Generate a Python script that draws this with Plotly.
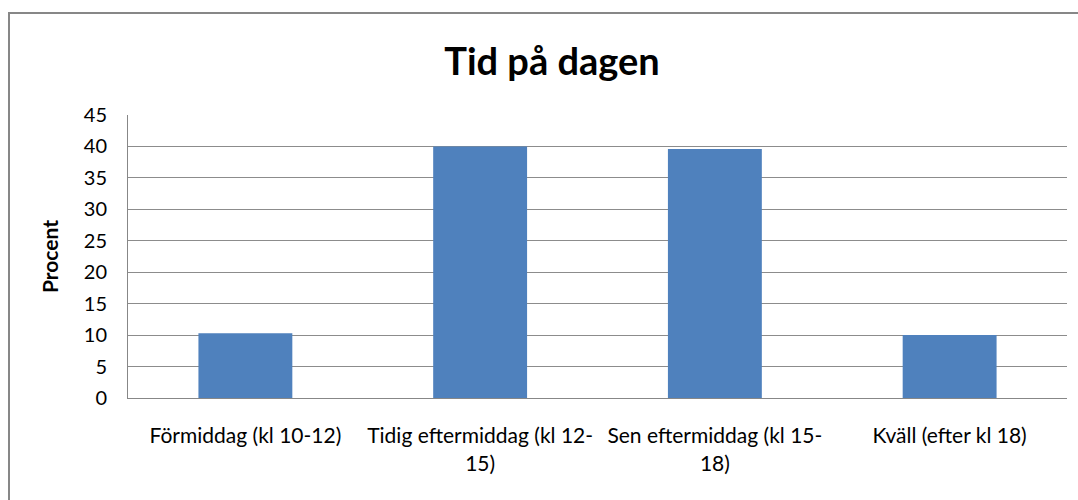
import plotly.graph_objects as go

categories = ["Förmiddag (kl 10-12)", "Tidig eftermiddag (kl 12-<br>15)",
              "Sen eftermiddag (kl 15-<br>18)", "Kväll (efter kl 18)"]
values = [10.3, 40.0, 39.6, 10.0]
y_ticks = [0, 5, 10, 15, 20, 25, 30, 35, 40, 45]

FONT = "Lato, Carlito, Calibri, sans-serif"
L, R, T, B = 128, 11, 115, 102
W, H = 1078, 500
pw, ph = W - L - R, H - T - B

fig = go.Figure(go.Bar(x=categories, y=values, marker=dict(color="#4F81BD", line=dict(width=0)),
                       width=0.4))

def px_x(p):
    return (p - L) / pw

def px_y(p):
    return (H - B - p) / ph

fig.add_shape(type="rect", xref="paper", yref="paper",
              x0=px_x(9), x1=px_x(1100), y0=px_y(13), y1=px_y(520),
              line=dict(color="#878787", width=2), fillcolor="rgba(0,0,0,0)", layer="below")

fig.update_layout(
    width=W, height=H,
    margin=dict(l=L, r=R, t=T, b=B),
    paper_bgcolor="white", plot_bgcolor="white",
    font=dict(family=FONT, color="#000000", size=20),
    title=dict(text="<b>Tid på dagen</b>", x=552 / W, xref="container", xanchor="center",
               y=1 - 62 / H, yref="container", yanchor="middle",
               font=dict(family=FONT, size=38, color="#000000")),
    showlegend=False,
    bargap=0.6,
)
fig.update_xaxes(showline=True, linecolor="#878787", linewidth=1, showgrid=False,
                 ticks="", tickfont=dict(size=21), ticklabelstandoff=19, mirror=False)
fig.update_yaxes(range=[0, 45], tickvals=y_ticks, showgrid=True, gridcolor="#8c8c8c", gridwidth=1,
                 showline=True, linecolor="#878787", linewidth=1, ticks="", zeroline=False,
                 tickfont=dict(size=20), ticklabelstandoff=16,
                 title=dict(text="<b>Procent</b>", font=dict(size=21), standoff=19))

fig.write_html("out.html", config={"displayModeBar": False},
               post_script="document.body.style.margin='0';")
